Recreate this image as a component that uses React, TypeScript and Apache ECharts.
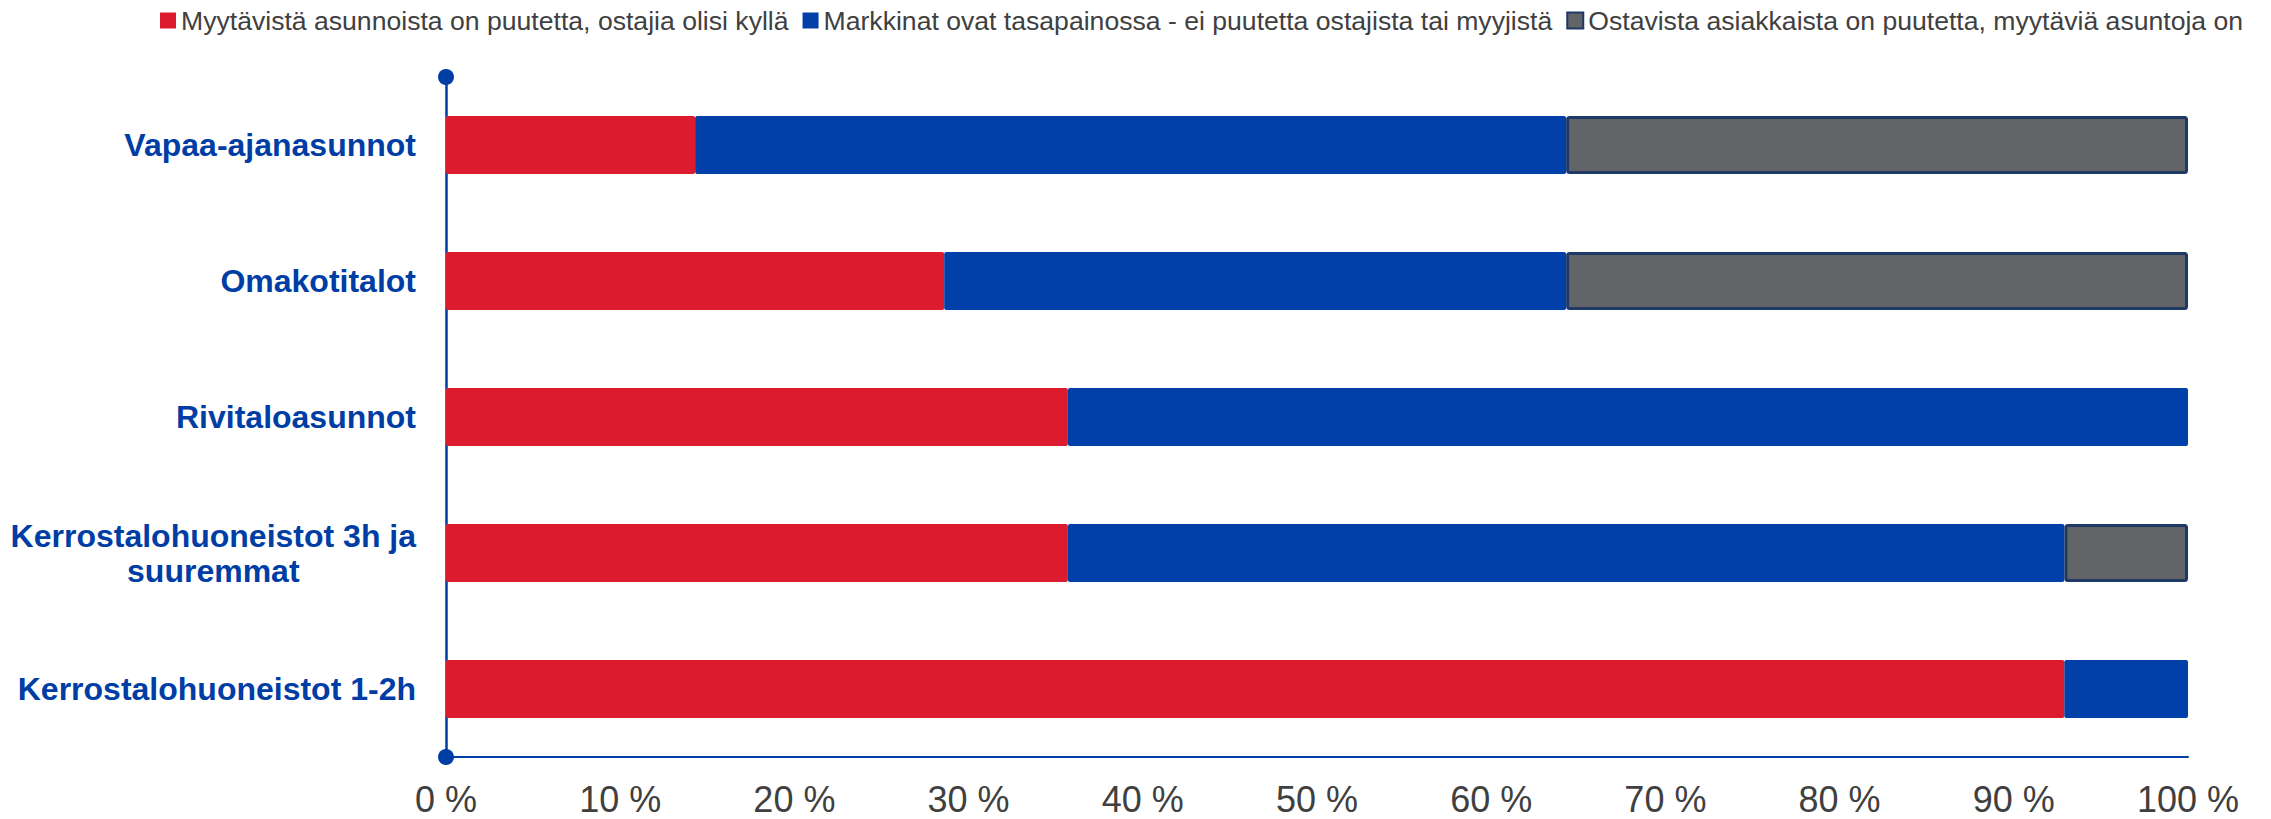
import React, { useEffect, useRef } from "react";
import * as echarts from "echarts";

const categories = [
  "Vapaa-ajanasunnot",
  "Omakotitalot",
  "Rivitaloasunnot",
  "Kerrostalohuoneistot 3h ja\nsuuremmat",
  "Kerrostalohuoneistot 1-2h",
];
const seriesNames = [
  "Myytävistä asunnoista on puutetta, ostajia olisi kyllä",
  "Markkinat ovat tasapainossa - ei puutetta ostajista tai myyjistä",
  "Ostavista asiakkaista on puutetta, myytäviä asuntoja on",
];
const redValues = [14.3, 28.6, 35.7, 35.7, 92.9];
const blueValues = [50.0, 35.7, 64.3, 57.2, 7.1];
const grayValues: (number | null)[] = [35.7, 35.7, null, 7.1, null];

const FONT = '"Liberation Sans", Arial, sans-serif';
const RED = "#DC1C2E";
const BLUE = "#0040A8";
const GRAY = "#636467";
const NAVY = "#1F3864";
const LABEL_BLUE = "#003DA5";

export default function App() {
  const ref = useRef<HTMLDivElement>(null);
  useEffect(() => {
    if (!ref.current) return;
    const chart = echarts.init(ref.current, undefined, { renderer: "svg" });
    chart.setOption({
      animation: false,
      textStyle: { fontFamily: FONT },
      legend: {
        left: 160,
        top: 7,
        padding: 0,
        itemGap: 14,
        itemWidth: 16,
        itemHeight: 16,
        icon: "rect",
        textStyle: { fontSize: 26.6, color: "#404040", fontFamily: FONT },
        data: seriesNames,
      },
      grid: { left: 446, right: 83, top: 77, bottom: 62, containLabel: false },
      xAxis: {
        type: "value",
        min: 0,
        max: 100,
        interval: 10,
        axisLine: { show: true, lineStyle: { color: LABEL_BLUE, width: 2 } },
        axisTick: { show: false },
        splitLine: { show: false },
        axisLabel: {
          formatter: "{value} %",
          fontSize: 36,
          lineHeight: 36,
          color: "#404040",
          fontFamily: FONT,
          margin: 24,
        },
      },
      yAxis: {
        type: "category",
        inverse: true,
        data: categories,
        axisLine: {
          show: true,
          symbol: ["circle", "circle"],
          symbolSize: [16, 16],
          lineStyle: { color: LABEL_BLUE, width: 2.5 },
        },
        axisTick: { show: false },
        axisLabel: {
          margin: 30,
          formatter: (v: string) =>
            v
              .split("\n")
              .map((l) => `{c|${l}}`)
              .join("\n"),
          rich: {
            c: {
              align: "center",
              fontSize: 32,
              fontWeight: "bold",
              color: LABEL_BLUE,
              fontFamily: FONT,
              lineHeight: 35,
            },
          },
        },
      },
      series: [
        {
          name: seriesNames[0],
          type: "bar",
          stack: "total",
          barWidth: 58,
          data: redValues,
          itemStyle: { color: RED, borderRadius: 2 },
        },
        {
          name: seriesNames[1],
          type: "bar",
          stack: "total",
          barWidth: 58,
          data: blueValues,
          itemStyle: { color: BLUE, borderRadius: 2 },
        },
        {
          name: seriesNames[2],
          type: "bar",
          stack: "total",
          barWidth: 58,
          data: grayValues,
          itemStyle: {
            color: GRAY,
            borderColor: NAVY,
            borderWidth: 3,
            borderRadius: 2,
          },
        },
      ],
    });
    return () => chart.dispose();
  }, []);
  return (
    <div
      ref={ref}
      style={{ position: "absolute", left: 0, top: 0, width: 2271, height: 819 }}
    />
  );
}
